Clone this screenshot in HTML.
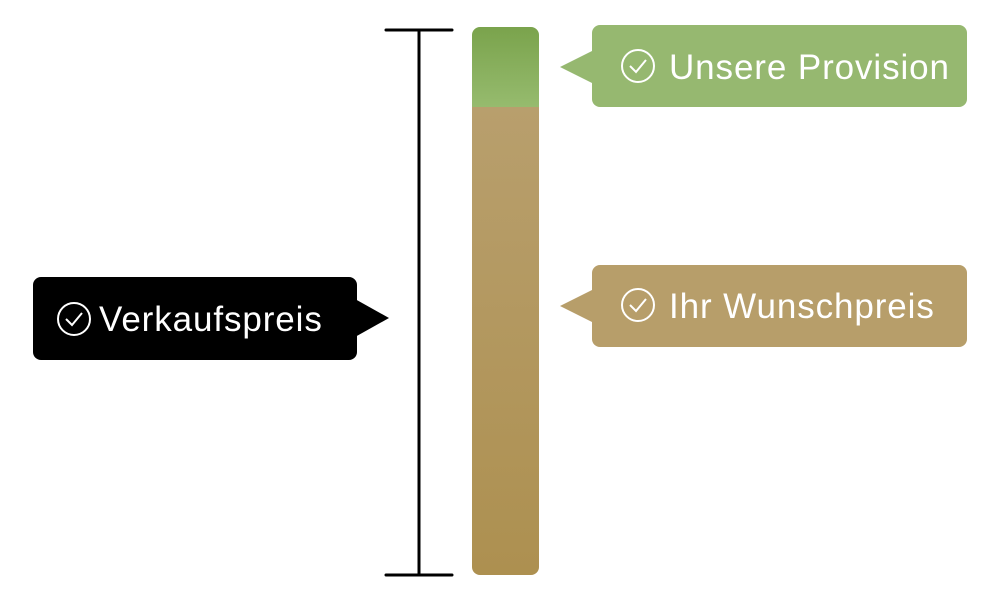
<!DOCTYPE html>
<html><head><meta charset="utf-8"><style>
body{margin:0;background:#fff;width:1000px;height:600px;overflow:hidden;position:relative;font-family:"Liberation Sans",sans-serif}
.t{position:absolute;color:#fff;font-size:35px;font-weight:300;white-space:nowrap;letter-spacing:0.9px}
</style></head><body>
<svg width="1000" height="600" style="position:absolute;left:0;top:0">
<defs>
<linearGradient id="g" x1="0" y1="0" x2="0" y2="1"><stop offset="0" stop-color="#7aa34c"/><stop offset="1" stop-color="#96bb6e"/></linearGradient>
<linearGradient id="b" x1="0" y1="0" x2="0" y2="1"><stop offset="0" stop-color="#b89f6d"/><stop offset="1" stop-color="#ad9050"/></linearGradient>
<clipPath id="c"><rect x="472" y="27" width="67" height="548" rx="8"/></clipPath>
</defs>
<g stroke="#000" stroke-width="3" stroke-linecap="round">
<line x1="386" y1="30" x2="452" y2="30"/><line x1="386" y1="575" x2="452" y2="575"/><line x1="419" y1="30" x2="419" y2="575"/>
</g>
<g clip-path="url(#c)">
<rect x="472" y="27" width="67" height="80" fill="url(#g)"/>
<rect x="472" y="107" width="67" height="468" fill="url(#b)"/>
</g>
<rect x="592" y="25" width="375" height="82" rx="8" fill="#96b870"/>
<polygon points="560,67 594,50 594,84" fill="#96b870"/>
<rect x="592" y="265" width="375" height="82" rx="8" fill="#b79e6a"/>
<polygon points="560,306 594,289 594,323" fill="#b79e6a"/>
<rect x="33" y="277" width="324" height="83" rx="8" fill="#000"/>
<polygon points="389,318 355,299 355,337" fill="#000"/>
<g fill="none" stroke="#fff" stroke-width="2">
<circle cx="638" cy="66" r="16"/><polyline points="630,66 636,72 646,60"/>
<circle cx="638" cy="305" r="16"/><polyline points="630,305 636,311 646,299"/>
<circle cx="74" cy="319" r="16"/><polyline points="66,319 72,325 82,313"/>
</g>
</svg>
<div class="t" style="left:669px;top:48px">Unsere Provision</div>
<div class="t" style="left:669px;top:287px">Ihr Wunschpreis</div>
<div class="t" style="left:99px;top:300px">Verkaufspreis</div>
</body></html>
